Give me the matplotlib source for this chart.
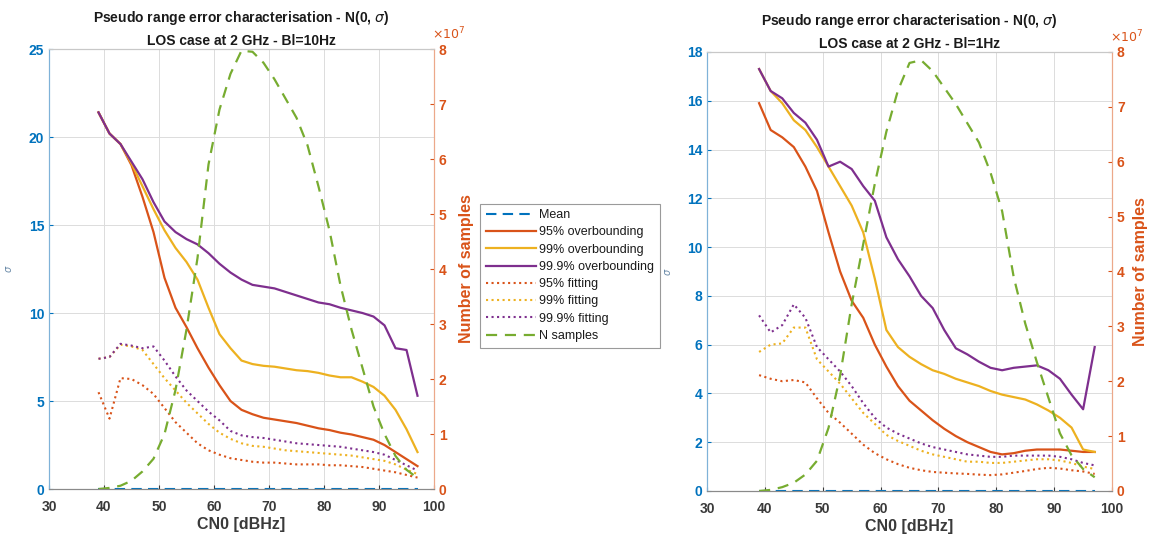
import matplotlib
matplotlib.use("Agg")
import matplotlib.pyplot as plt
from matplotlib.ticker import FuncFormatter

plt.rcParams['font.family'] = ['Liberation Sans', 'DejaVu Sans']

# -------------------------------
# Data (CN0 in dBHz, sigma in m, N samples in 1e7)
# -------------------------------
cn0 = [39, 41, 43, 45, 47, 49, 51, 53, 55, 57, 59, 61, 63, 65, 67,
       69, 71, 73, 75, 77, 79, 81, 83, 85, 87, 89, 91, 93, 95, 97]

# Bl = 10 Hz
ob95_10 = [21.4, 20.2, 19.6, 18.4, 16.6, 14.6, 12.0, 10.3, 9.2, 8.0, 6.9, 5.9, 5.0, 4.5, 4.25,
           4.05, 3.95, 3.85, 3.75, 3.6, 3.45, 3.35, 3.2, 3.1, 2.95, 2.8, 2.5, 2.1, 1.7, 1.3]
ob99_10 = [21.4, 20.2, 19.6, 18.5, 17.2, 15.9, 14.7, 13.7, 12.9, 11.9, 10.3, 8.8, 8.0, 7.3, 7.1,
           7.0, 6.95, 6.85, 6.75, 6.7, 6.6, 6.45, 6.35, 6.35, 6.1, 5.8, 5.3, 4.5, 3.4, 2.1]
ob999_10 = [21.4, 20.2, 19.6, 18.6, 17.6, 16.3, 15.2, 14.6, 14.2, 13.9, 13.4, 12.8, 12.3, 11.9, 11.6,
            11.5, 11.4, 11.2, 11.0, 10.8, 10.6, 10.5, 10.3, 10.15, 10.0, 9.8, 9.3, 8.0, 7.9, 5.3]
fit95_10 = [5.5, 4.0, 6.3, 6.25, 5.9, 5.4, 4.6, 3.8, 3.2, 2.6, 2.2, 1.95, 1.75, 1.65, 1.55,
            1.5, 1.5, 1.45, 1.4, 1.4, 1.4, 1.35, 1.35, 1.3, 1.25, 1.15, 1.05, 0.95, 0.8, 0.65]
fit99_10 = [7.4, 7.5, 8.2, 8.1, 7.9, 7.1, 6.3, 5.6, 4.9, 4.3, 3.7, 3.2, 2.85, 2.6, 2.45,
            2.4, 2.3, 2.2, 2.15, 2.1, 2.05, 2.0, 1.95, 1.9, 1.8, 1.7, 1.6, 1.4, 1.1, 0.85]
fit999_10 = [7.4, 7.5, 8.25, 8.15, 8.0, 8.1, 7.3, 6.4, 5.6, 5.0, 4.4, 3.9, 3.3, 3.05, 2.95,
             2.9, 2.8, 2.7, 2.6, 2.55, 2.5, 2.45, 2.4, 2.3, 2.2, 2.1, 1.95, 1.65, 1.35, 1.05]
nsamp_10 = [0.0, 0.02, 0.06, 0.15, 0.32, 0.55, 1.0, 1.8, 2.9, 4.2, 5.9, 6.9, 7.55, 7.97, 7.95,
            7.75, 7.45, 7.1, 6.75, 6.25, 5.5, 4.7, 3.7, 2.9, 2.2, 1.5, 1.0, 0.6, 0.35, 0.2]

# Bl = 1 Hz
ob95_1 = [15.9, 14.8, 14.5, 14.1, 13.3, 12.3, 10.6, 9.0, 7.8, 7.1, 6.0, 5.1, 4.3, 3.7, 3.3,
          2.9, 2.55, 2.25, 2.0, 1.8, 1.6, 1.5, 1.55, 1.65, 1.7, 1.7, 1.7, 1.65, 1.6, 1.6]
ob99_1 = [17.3, 16.4, 15.9, 15.2, 14.8, 14.1, 13.3, 12.5, 11.7, 10.6, 8.7, 6.6, 5.9, 5.5, 5.2,
          4.95, 4.8, 4.6, 4.45, 4.3, 4.1, 3.95, 3.85, 3.75, 3.55, 3.3, 3.0, 2.6, 1.7, 1.6]
ob999_1 = [17.3, 16.4, 16.1, 15.5, 15.1, 14.4, 13.3, 13.5, 13.2, 12.5, 11.9, 10.4, 9.5, 8.8, 8.0,
           7.5, 6.6, 5.85, 5.6, 5.3, 5.05, 4.95, 5.05, 5.1, 5.15, 4.95, 4.6, 3.95, 3.35, 5.9]
fit95_1 = [4.75, 4.6, 4.5, 4.55, 4.45, 3.8, 3.2, 2.8, 2.35, 1.9, 1.55, 1.3, 1.1, 0.95, 0.85,
           0.78, 0.75, 0.72, 0.7, 0.67, 0.65, 0.68, 0.75, 0.82, 0.9, 0.95, 0.92, 0.85, 0.8, 0.7]
fit99_1 = [5.7, 6.0, 6.05, 6.7, 6.7, 5.4, 4.9, 4.4, 3.8, 3.2, 2.75, 2.3, 2.05, 1.85, 1.65,
           1.5, 1.4, 1.3, 1.2, 1.2, 1.15, 1.15, 1.2, 1.25, 1.3, 1.3, 1.25, 1.15, 1.0, 0.9]
fit999_1 = [7.2, 6.5, 6.8, 7.65, 7.1, 5.9, 5.4, 4.9, 4.3, 3.6, 3.0, 2.6, 2.35, 2.15, 1.95,
            1.8, 1.7, 1.6, 1.5, 1.45, 1.4, 1.4, 1.45, 1.45, 1.45, 1.45, 1.4, 1.3, 1.15, 1.05]
nsamp_1 = [0.0, 0.02, 0.07, 0.15, 0.3, 0.55, 1.15, 2.1, 3.4, 4.5, 5.6, 6.55, 7.3, 7.8, 7.85,
           7.65, 7.35, 7.05, 6.7, 6.35, 5.8, 5.1, 3.9, 3.05, 2.35, 1.7, 1.05, 0.65, 0.4, 0.25]

mean_vals = [0.0] * len(cn0)

BLUE = "#0072BD"
ORANGE = "#D95319"
YELLOW = "#EDB120"
PURPLE = "#7E2F8E"
GREEN = "#77AC30"


def draw(rect, bl, ymax, ystep, ob95, ob99, ob999, f95, f99, f999, ns, siglab_x, nlab_pad):
    ax = fig.add_axes(rect)
    ax2 = ax.twinx()

    h = []
    h += ax.plot(cn0, mean_vals, "--", color=BLUE, lw=1.5, dashes=(5, 3), label="Mean")
    h += ax.plot(cn0, ob95, "-", color=ORANGE, lw=1.6, label="95% overbounding")
    h += ax.plot(cn0, ob99, "-", color=YELLOW, lw=1.6, label="99% overbounding")
    h += ax.plot(cn0, ob999, "-", color=PURPLE, lw=1.6, label="99.9% overbounding")
    h += ax.plot(cn0, f95, ":", color=ORANGE, lw=1.5, label="95% fitting")
    h += ax.plot(cn0, f99, ":", color=YELLOW, lw=1.5, label="99% fitting")
    h += ax.plot(cn0, f999, ":", color=PURPLE, lw=1.5, label="99.9% fitting")
    h += ax2.plot(cn0, [v * 1e7 for v in ns], "--", color=GREEN, lw=1.6, dashes=(5, 3.5), label="N samples")

    ax.set_xlim(30, 100)
    ax.set_ylim(0, ymax)
    ax2.set_ylim(0, 8e7)
    ax.set_xticks(range(30, 101, 10))
    ax.set_yticks(range(0, ymax + 1, ystep))
    ax2.set_yticks([i * 1e7 for i in range(9)])
    ax2.yaxis.set_major_formatter(FuncFormatter(lambda v, p: "%d" % round(v / 1e7)))
    # exponent label, as MATLAB puts it above the right axis
    ax2.text(0.995, 1.016, r"$\times10^{7}$", transform=ax2.transAxes, color=ORANGE,
             fontsize=9, ha="left", va="bottom")

    ax.grid(True, color="#dcdcdc", lw=0.7)
    ax.set_axisbelow(True)

    for a in (ax, ax2):
        for s in a.spines.values():
            s.set_linewidth(0.8)
        a.spines["top"].set_color("#c8c8c8")
        a.spines["bottom"].set_color("#8a8a8a")
        a.spines["left"].set_color("#7fb2d8")
        a.spines["right"].set_color("#eca88a")

    ax.tick_params(axis="x", direction="in", colors="#3a3a3a", labelsize=10, length=3, pad=8)
    ax.tick_params(axis="y", direction="in", colors=BLUE, labelsize=10, length=3)
    ax2.tick_params(axis="y", direction="in", colors=ORANGE, labelsize=10, length=3)
    for lab in ax.get_xticklabels() + ax.get_yticklabels() + ax2.get_yticklabels():
        lab.set_fontweight("bold")

    ax.set_xlabel("CN0 [dBHz]", fontsize=11.5, fontweight="bold", color="#3a3a3a", labelpad=2)
    ax.set_ylabel(r"$\sigma$", fontsize=7, color="#6a8aa8")
    ax.yaxis.set_label_coords(siglab_x, 0.5)
    ax2.set_ylabel("Number of samples", fontsize=11.5, fontweight="bold", color=ORANGE, labelpad=nlab_pad)
    ax.set_title("Pseudo range error characterisation - N(0, $\\sigma$)\nLOS case at 2 GHz - Bl=%dHz" % bl,
                 fontsize=10, fontweight="bold", color="#1a1a1a", pad=3, linespacing=1.65)
    return h


fig = plt.figure(figsize=(11.5, 5.43), dpi=100)

handles = draw([0.0426, 0.0994, 0.3348, 0.8103], 10, 25, 5,
               ob95_10, ob99_10, ob999_10, fit95_10, fit99_10, fit999_10, nsamp_10, -0.09, 9)
draw([0.6148, 0.0958, 0.3522, 0.8085], 1, 18, 2,
     ob95_1, ob99_1, ob999_1, fit95_1, fit99_1, fit999_1, nsamp_1, -0.085, 6)

leg = fig.legend(handles, [h.get_label() for h in handles], loc="center",
                 bbox_to_anchor=(0.4957, 0.4926), fontsize=9, handlelength=4.0,
                 handletextpad=0.3, labelspacing=0.42, borderpad=0.45, fancybox=False,
                 framealpha=1, edgecolor="#9a9a9a")
leg.get_frame().set_linewidth(0.8)
for t in leg.get_texts():
    t.set_color("#1a1a1a")

plt.savefig("out.png", dpi=100)
plt.close()
